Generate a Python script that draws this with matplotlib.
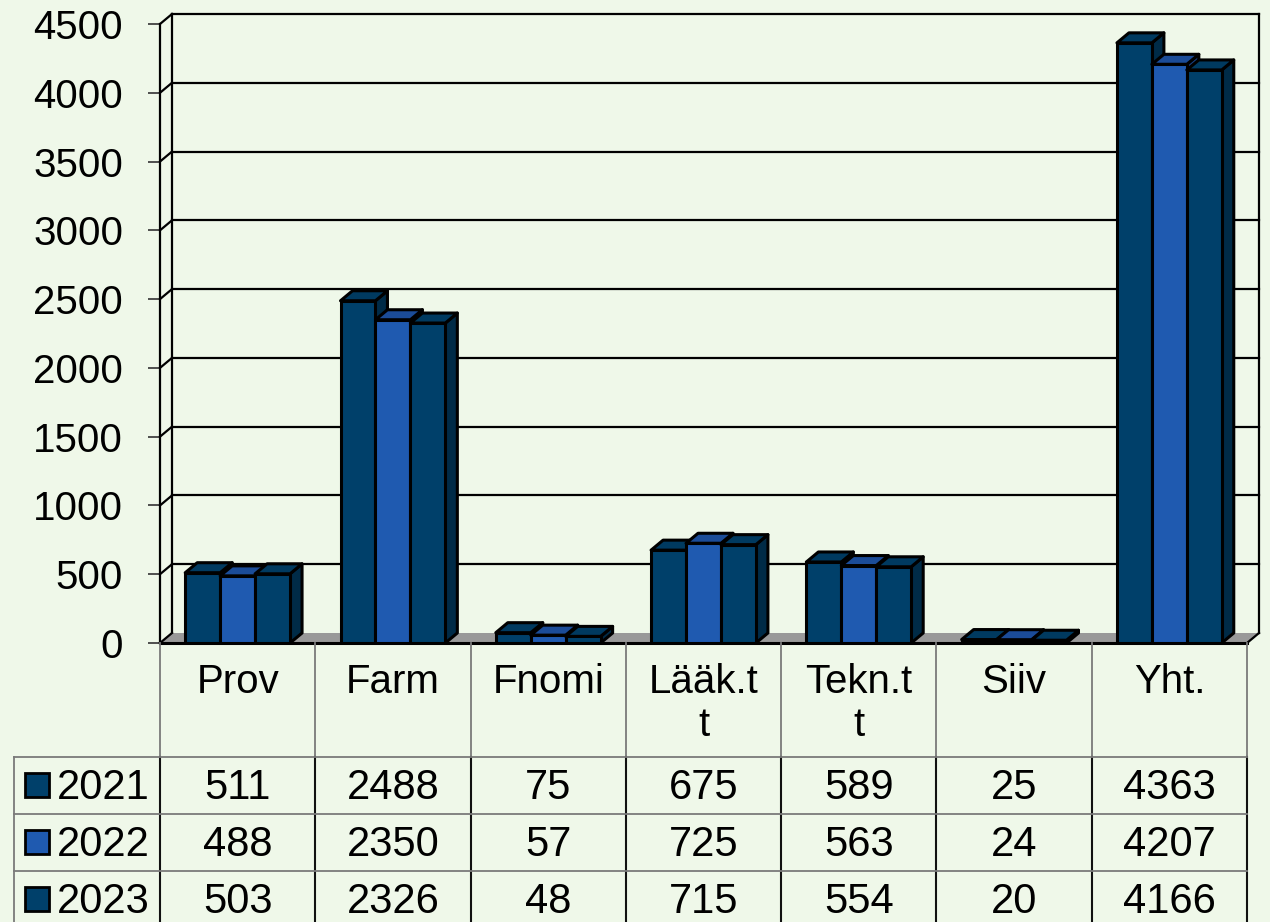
import matplotlib
matplotlib.use("Agg")
import matplotlib.pyplot as plt
from matplotlib.patches import Polygon, Rectangle
import numpy as np

plt.rcParams['font.family'] = ['Liberation Sans', 'DejaVu Sans']

categories = ["Prov", "Farm", "Fnomi", "Lääk.t\nt", "Tekn.t\nt", "Siiv", "Yht."]
years = ["2021", "2022", "2023"]
v2021 = [511, 2488, 75, 675, 589, 25, 4363]
v2022 = [488, 2350, 57, 725, 563, 24, 4207]
v2023 = [503, 2326, 48, 715, 554, 20, 4166]
series = [v2021, v2022, v2023]
yticks = list(range(0, 4501, 500))

BG = '#eff8e9'
fronts = ['#00406a', '#1f5ab0', '#00406a']
tops = ['#003a60', '#1b4c98', '#003a60']
sides = ['#002b47', '#163f80', '#002b47']

W, H = 1270, 922
fig = plt.figure(figsize=(W / 100, H / 100), dpi=100, facecolor=BG)

# plot area in pixels
left_px, right_px, base_px, top_px = 160, 1247, 643, 24
ax = fig.add_axes([left_px / W, 1 - base_px / H, (right_px - left_px) / W,
                   (base_px - top_px) / H])
ax.set_xlim(-0.5, 6.5)
ax.set_ylim(0, 4500)
ax.patch.set_visible(False)
for s in ['top', 'right', 'bottom']:
    ax.spines[s].set_visible(False)
ax.spines['left'].set_linewidth(1.6)
ax.set_xticks([])
ax.set_yticks(yticks)
ax.tick_params(axis='y', length=8.6, width=1.2, color='#333333', pad=18,
               labelsize=29)

ux = (right_px - left_px) / 7.0          # px per x unit
uy = (base_px - top_px) / 4500.0         # px per y unit
WDX, WDY = 12 / ux, 10 / uy              # wall depth
BDX, BDY = 12 / ux, 10 / uy              # bar depth

# walls + gridlines
for v in yticks:
    if v > 0:
        ax.plot([-0.5, -0.5 + WDX], [v, v + WDY], color='black', lw=1.6,
                clip_on=False, zorder=1)
        ax.plot([-0.5 + WDX, 6.5 + WDX], [v + WDY, v + WDY], color='black',
                lw=1.6, clip_on=False, zorder=1)
for xv in [-0.5 + WDX, 6.5 + WDX]:
    ax.plot([xv, xv], [WDY, 4500 + WDY], color='black', lw=1.6,
            clip_on=False, zorder=1)
floor = Polygon([(-0.5, 0), (6.5, 0), (6.5 + WDX, WDY), (-0.5 + WDX, WDY)],
                closed=True, facecolor='#999999', edgecolor='none',
                clip_on=False, zorder=2)
ax.add_patch(floor)
ax.plot([-0.5, -0.5 + WDX], [0, WDY], color='black', lw=1.6, clip_on=False,
        zorder=3)
ax.plot([6.5, 6.5 + WDX], [0, WDY], color='black', lw=1.6, clip_on=False,
        zorder=3)
ax.plot([-0.5, 6.5], [0, 0], color='black', lw=2.2, clip_on=False, zorder=4)

# bars
x = np.arange(len(categories))
bw = 0.225
offsets = [-bw, 0, bw]
for j, vals in enumerate(series):
    bars = ax.bar(x + offsets[j], vals, width=bw, color=fronts[j],
                  edgecolor='black', linewidth=2.2)
    for i, b in enumerate(bars):
        k = i * 3 + j
        x0, w, h = b.get_x(), b.get_width(), b.get_height()
        b.set_zorder(5 + 3 * k + 2)
        side = Polygon([(x0 + w, 0), (x0 + w + BDX, BDY),
                        (x0 + w + BDX, h + BDY), (x0 + w, h)], closed=True,
                       facecolor=sides[j], edgecolor='black', lw=2.2,
                       joinstyle='round', zorder=5 + 3 * k, clip_on=False)
        top = Polygon([(x0, h), (x0 + BDX, h + BDY), (x0 + w + BDX, h + BDY),
                       (x0 + w, h)], closed=True, facecolor=tops[j],
                      edgecolor='black', lw=2.2, joinstyle='round',
                      zorder=5 + 3 * k + 1, clip_on=False)
        ax.add_patch(side)
        ax.add_patch(top)

# data table below
tax = fig.add_axes([left_px / W, 0, (right_px - left_px) / W, (H - base_px) / H])
tax.set_xlim(-0.5, 6.5)
tax.set_ylim(H - base_px, 0)
tax.axis('off')


def px2x(px):
    return -0.5 + (px - left_px) / ux


gray_kw = dict(color='#7a7a7a', lw=1.3, clip_on=False)
dark_kw = dict(color='#111111', lw=1.5, clip_on=False)
leg_left = px2x(14)
row_tops = [114, 171, 228]
for xv in np.arange(-0.5, 7.0, 1.0):
    tax.plot([xv, xv], [0, row_tops[0]], **gray_kw)
    tax.plot([xv, xv], [row_tops[0], H - base_px], **dark_kw)
for r in row_tops:
    tax.plot([leg_left, 6.5], [r, r], **gray_kw)
tax.plot([leg_left, leg_left], [row_tops[0], H - base_px], **gray_kw)

for i, c in enumerate(categories):
    tax.text(i, 20, c, ha='center', va='top', fontsize=29, linespacing=1.18)

for j, vals in enumerate(series):
    r = row_tops[j]
    tax.add_patch(Rectangle((px2x(25), r + 16), px2x(49) - px2x(25), 24,
                            facecolor=fronts[j], edgecolor='black', lw=2.0,
                            clip_on=False))
    tax.text(px2x(57), r + 42, years[j], ha='left', va='baseline', fontsize=30)
    for i, v in enumerate(vals):
        tax.text(i, r + 42, str(v), ha='center', va='baseline', fontsize=30)

fig.savefig('out.png', dpi=100, facecolor=BG)
